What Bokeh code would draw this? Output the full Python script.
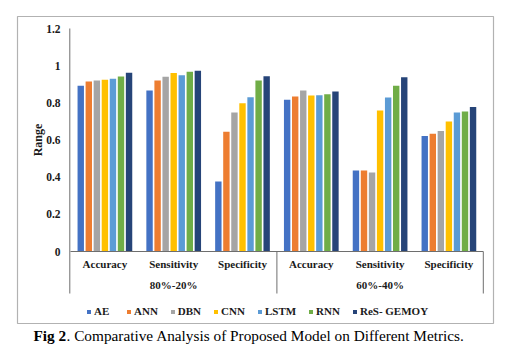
import math
from bokeh.plotting import figure
from bokeh.models import Range1d, ColumnDataSource, Legend, LegendItem, Label, BoxAnnotation
from bokeh.core.properties import value
from bokeh.embed import file_html
from bokeh.resources import INLINE

# ---------------- data ----------------
splits = ["80%-20%", "60%-40%"]
metrics = ["Accuracy", "Sensitivity", "Specificity"]
models = ["AE", "ANN", "DBN", "CNN", "LSTM", "RNN", "ReS- GEMOY"]
colors = ["#4472C4", "#ED7D31", "#A5A5A5", "#FFC000", "#5B9BD5", "#70AD47", "#264478"]

# values per model, in order: 80-20 (Acc, Sens, Spec), 60-40 (Acc, Sens, Spec)
ae = [0.892, 0.866, 0.377, 0.816, 0.436, 0.622]
ann = [0.915, 0.920, 0.644, 0.834, 0.436, 0.633]
dbn = [0.920, 0.940, 0.748, 0.866, 0.425, 0.649]
cnn = [0.924, 0.960, 0.798, 0.839, 0.759, 0.700]
lstm = [0.929, 0.949, 0.830, 0.841, 0.829, 0.748]
rnn = [0.942, 0.967, 0.920, 0.846, 0.892, 0.753]
res_gemoy = [0.962, 0.972, 0.943, 0.861, 0.938, 0.778]
series = [ae, ann, dbn, cnn, lstm, rnn, res_gemoy]

y_ticks = [0, 0.2, 0.4, 0.6, 0.8, 1.0, 1.2]
y_tick_labels = ["0", "0.2", "0.4", "0.6", "0.8", "1", "1.2"]

caption_bold = "Fig 2"
caption_rest = ". Comparative Analysis of Proposed Model on Different Metrics."

# ---------------- layout helpers ----------------
W, H = 500, 348
X0PX, UNIT_X = 70.0, 68.8          # pixel of x=0, pixels per category slot
Y0PX, UNIT_Y = 251.0, 223.0 / 1.2  # pixel of y=0, pixels per unit value


def xd(px):
    return (px - X0PX) / UNIT_X


def yd(py):
    return (Y0PX - py) / UNIT_Y


FONT = "Liberation Serif"
TXT = "#1a1a1a"
AXIS_COL = "#6e6e6e"

p = figure(width=W, height=H, output_backend="svg", toolbar_location=None,
           x_range=Range1d(xd(0), xd(W)), y_range=Range1d(yd(H), yd(0)),
           x_axis_type=None, y_axis_type=None, min_border=0)
p.min_border_left = p.min_border_right = p.min_border_top = p.min_border_bottom = 0
p.grid.visible = False
p.outline_line_color = None
p.background_fill_color = "white"
p.border_fill_color = "white"

# outer chart border
p.add_layout(BoxAnnotation(left=xd(17), right=xd(493), top=yd(16), bottom=yd(323),
                           fill_alpha=0, line_color="black", line_width=1.2))

# ---------------- bars ----------------
n_cat = len(splits) * len(metrics)
pitch = 8.05 / UNIT_X
bar_w = 6.4 / UNIT_X
legend_items = []
for k, (name, vals, col) in enumerate(zip(models, series, colors)):
    xs = [i + 0.5 + (k - 3) * pitch for i in range(n_cat)]
    src = ColumnDataSource(dict(x=xs, top=vals))
    r = p.vbar(x="x", top="top", bottom=0, width=bar_w, source=src,
               fill_color=col, line_color=None)
    legend_items.append(LegendItem(label=name, renderers=[r]))

# ---------------- axes drawn as glyphs ----------------
sep_bottom = yd(293)
p.segment(x0=[-0.01], y0=[1.2], x1=[-0.01], y1=[sep_bottom], line_color=AXIS_COL, line_width=1)
p.segment(x0=[0], y0=[0], x1=[n_cat], y1=[0], line_color=AXIS_COL, line_width=1)
p.segment(x0=[3, 6], y0=[0, 0], x1=[3, 6], y1=[sep_bottom, sep_bottom],
          line_color=AXIS_COL, line_width=1)

tick_src = ColumnDataSource(dict(x=[xd(60)] * len(y_ticks), y=y_ticks, t=y_tick_labels))
p.text(x="x", y="y", text="t", source=tick_src, text_font=value(FONT),
       text_font_style="bold", text_font_size="11.5px", text_align="right",
       text_baseline="middle", text_color=TXT)

p.text(x=[xd(37.5)], y=[0.6], text=["Range"], angle=math.pi / 2,
       text_font=value(FONT), text_font_style="bold", text_font_size="12px",
       text_align="center", text_baseline="middle", text_color=TXT)

cat_labels = metrics * len(splits)
cat_src = ColumnDataSource(dict(x=[i + 0.5 for i in range(n_cat)], y=[yd(263)] * n_cat, t=cat_labels))
p.text(x="x", y="y", text="t", source=cat_src, text_font=value(FONT),
       text_font_style="bold", text_font_size="11px", text_align="center",
       text_baseline="middle", text_color=TXT)

grp_src = ColumnDataSource(dict(x=[1.5, 4.5], y=[yd(284)] * 2, t=splits))
p.text(x="x", y="y", text="t", source=grp_src, text_font=value(FONT),
       text_font_style="bold", text_font_size="11px", text_align="center",
       text_baseline="middle", text_color=TXT)

# ---------------- legend ----------------
legend = Legend(items=legend_items, orientation="horizontal", location=(86, 31),
                glyph_width=5, glyph_height=5, label_standoff=3, spacing=12,
                padding=0, margin=0, border_line_color=None, background_fill_alpha=0,
                label_text_font=FONT, label_text_font_style="bold",
                label_text_font_size="11px", label_text_color=TXT, label_height=12)
p.add_layout(legend)

# ---------------- caption ----------------
p.add_layout(Label(x=xd(33), y=yd(335), text=caption_bold, text_font=FONT,
                   text_font_style="bold", text_font_size="15.3px", text_color="black",
                   text_baseline="middle"))
p.add_layout(Label(x=xd(66), y=yd(335), text=caption_rest, text_font=FONT,
                   text_font_size="15.3px", text_color="black", text_baseline="middle"))

open("out.html", "w").write(file_html(p, INLINE))
